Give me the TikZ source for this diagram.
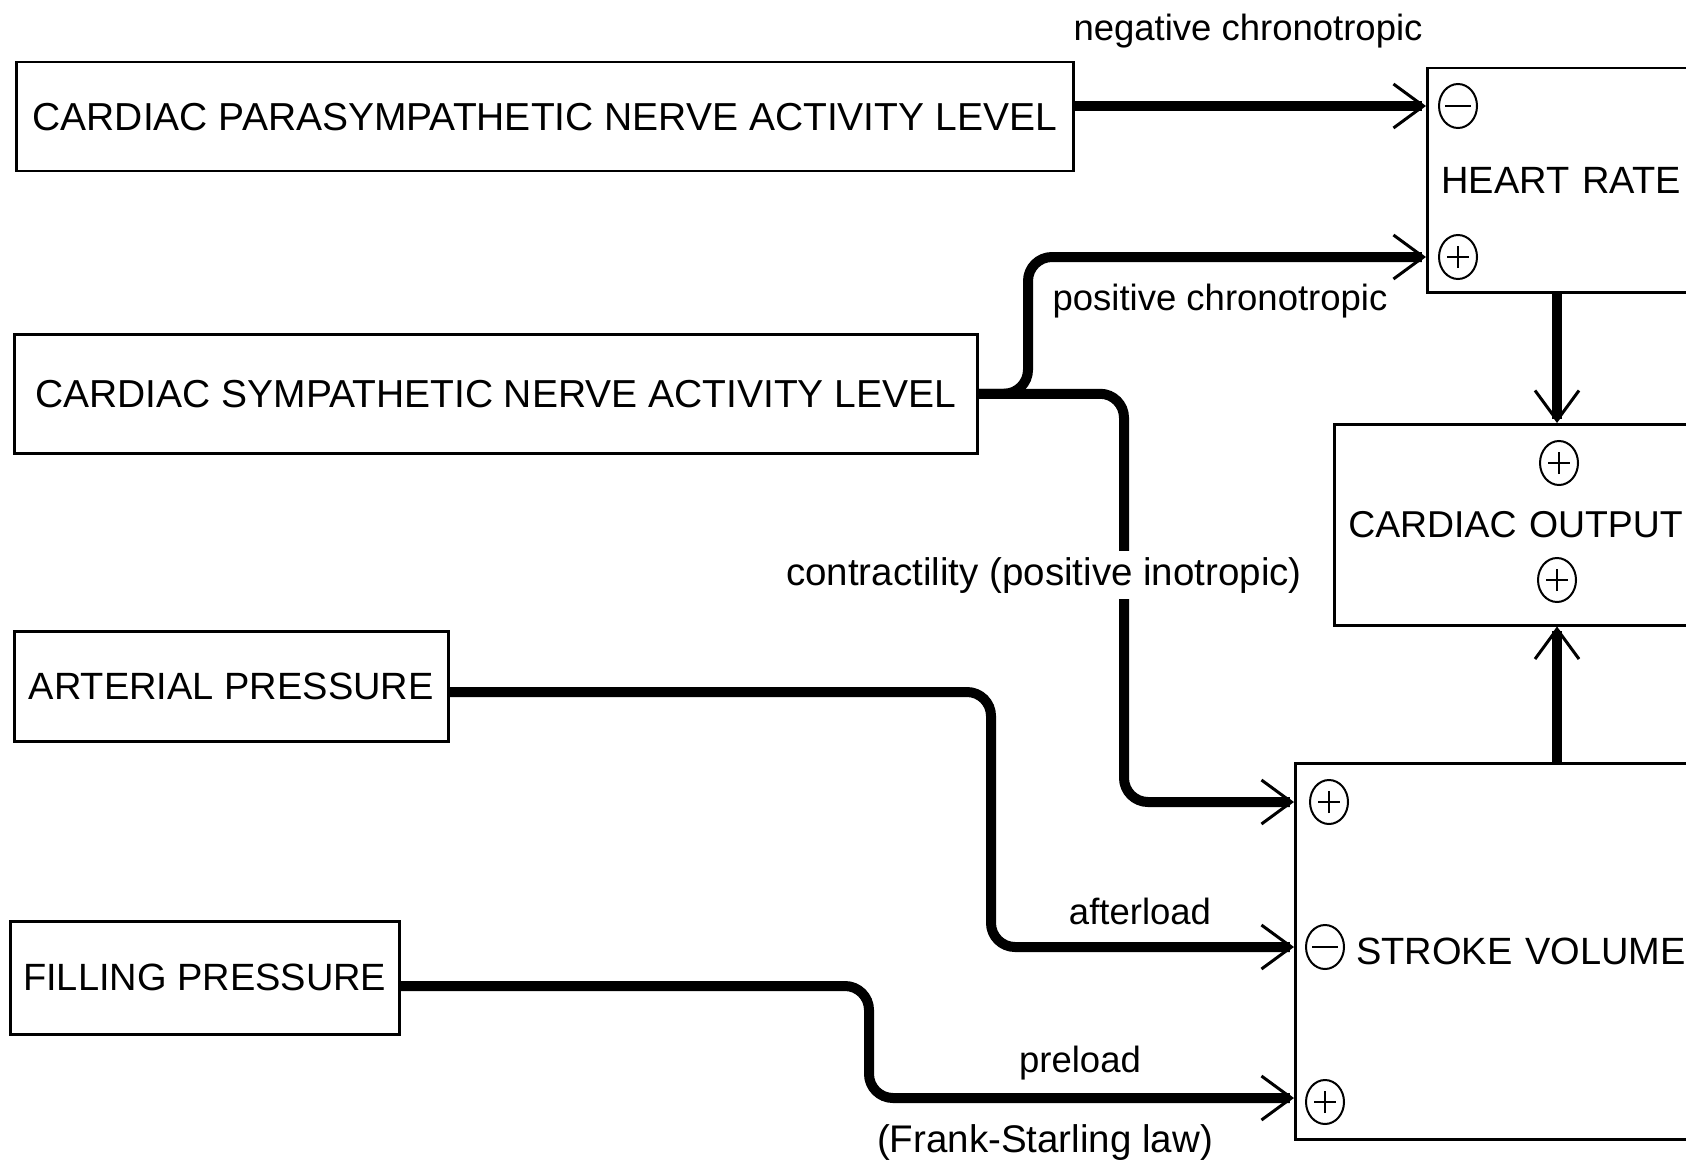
\documentclass[tikz,border=0pt]{standalone}
\usepackage{fontspec}
\setmainfont{Liberation Sans}
\usetikzlibrary{arrows.meta,shapes.geometric}
\tikzset{
  box/.style={draw, line width=2.5pt, inner sep=0pt, font=\fontsize{38}{40}\selectfont},
  lbl/.style={inner sep=0pt, font=\fontsize{36.5}{38}\selectfont, anchor=base},
  conn/.style={line width=10pt, rounded corners=24pt,
    -{Straight Barb[length=30pt,width=44pt,line width=3pt]}},
  sgn/.style={draw, ellipse, line width=2pt, minimum width=38pt, minimum height=44pt, inner sep=0pt},
  sgnp/.style={sgn, path picture={
    \draw[line width=1.3pt] ([xshift=-11pt]path picture bounding box.center) -- ([xshift=11pt]path picture bounding box.center);
    \draw[line width=1.3pt] ([yshift=-11pt]path picture bounding box.center) -- ([yshift=11pt]path picture bounding box.center);}},
  sgnm/.style={sgn, path picture={
    \draw[line width=1.3pt] ([xshift=-13pt]path picture bounding box.center) -- ([xshift=13pt]path picture bounding box.center);}}
}
\begin{document}
\begin{tikzpicture}[x=1pt,y=-1pt]
\useasboundingbox (0,0) rectangle (1686,1161);
\clip (0,0) rectangle (1686,1161);
% left boxes
\node[box, font=\fontsize{39}{41}\selectfont, anchor=north west, minimum width=1057, minimum height=109] (para) at (15,61) {CARDIAC PARASYMPATHETIC NERVE ACTIVITY LEVEL};
\node[box, font=\fontsize{39}{41}\selectfont, anchor=north west, minimum width=963, minimum height=119] (symp) at (13,333) {CARDIAC SYMPATHETIC NERVE ACTIVITY LEVEL};
\node[box, anchor=north west, minimum width=434, minimum height=110] (art) at (13,630) {ARTERIAL PRESSURE};
\node[box, anchor=north west, minimum width=389, minimum height=113] (fill) at (9,920) {FILLING PRESSURE};
% right boxes (open to the right)
\node[box, anchor=north west, minimum width=300, minimum height=224, text width=272, align=left, inner xsep=14pt] (hr) at (1426,67) {HEART RATE};
\node[box, font=\fontsize{37.4}{39}\selectfont, anchor=north west, minimum width=393, minimum height=201, text width=365, align=left, inner xsep=14pt] (co) at (1333,423) {CARDIAC OUTPUT};
\node[box, anchor=north west, minimum width=500, minimum height=376, text width=378, align=left, inner xsep=61pt] (sv) at (1294,762) {STROKE VOLUME};
% signs
\node[sgnm] (hrm) at (1458,106) {};
\node[sgnp] (hrp) at (1458,257) {};
\node[sgnp] (cop1) at (1559,463) {};
\node[sgnp] (cop2) at (1557,580) {};
\node[sgnp] (svp1) at (1329,802) {};
\node[sgnm] (svm) at (1325,947) {};
\node[sgnp] (svp2) at (1325,1102) {};
% connectors
\draw[conn] (para.east |- hrm) -- (hr.west |- hrm);
\draw[conn] (symp.east) -- (1028,0 |- symp.east) -- (1028,0 |- hrp) -- (hr.west |- hrp);
\draw[conn] (symp.east) -- (1124,0 |- symp.east) -- (1124,0 |- svp1) -- (sv.west |- svp1);
\draw[conn] (art.east |- 0,692) -- (991,692) -- (991,0 |- svm) -- (sv.west |- svm);
\draw[conn] (fill.east |- 0,986) -- (869,986) -- (869,1098) -- (sv.west |- 0,1098);
\draw[conn, rounded corners=0pt] (1557,0 |- hr.south) -- (1557,0 |- co.north);
\draw[conn, rounded corners=0pt] (1557,0 |- sv.north) -- (1557,0 |- co.south);
% labels
\node[lbl] (lneg) at (1248,41) {negative chronotropic};
\node[lbl] (lpos) at (1220,310) {positive chronotropic};
\node[lbl, font=\fontsize{38.5}{40}\selectfont, fill=white, inner ysep=6pt] (lcon) at (1044,585) {contractility (positive inotropic)};
\node[lbl] (laft) at (1140,924) {afterload};
\node[lbl] (lpre) at (1080,1072) {preload};
\node[lbl, font=\fontsize{38.5}{40}\selectfont] (lfs) at (1045,1152) {(Frank-Starling law)};
\end{tikzpicture}
\end{document}
